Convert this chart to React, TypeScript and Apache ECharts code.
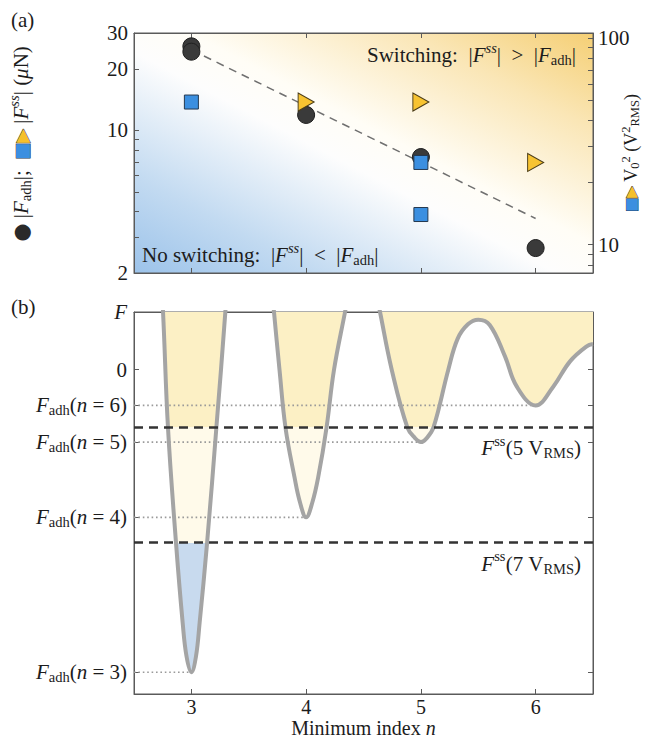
import React, { useEffect, useRef } from 'react';
import * as echarts from 'echarts';

const SERIF = '"Liberation Serif", "Times New Roman", serif';
const SYM = '"DejaVu Sans", sans-serif';
const INK = '#1c1c1c';
const AXIS = '#5a5a5a';
const FS = 21;
const FSS = 14.5;

// ---------- shared x range ----------
const nRange = [2.5, 6.5];
const nTicks = [3, 4, 5, 6];

// ---------- panel (a) ----------
const adhN = [3, 3, 4, 5, 6];
const adhForce = [25.8, 24.3, 11.9, 7.4, 2.65];
const trendN = [3, 6];
const trendForce = [24.8, 3.7];
const triN = [4, 5, 6];
const triV2 = [49, 49, 25];
const sqN = [3, 5, 5];
const sqV2 = [49, 25, 14];
const forceRange = [2, 30];
const forceTicks = [2, 3, 4, 5, 6, 7, 8, 9, 10, 20, 30];
const forceLabels = [2, 10, 20, 30];
const v2Range = [7.3, 105.7];
const v2Ticks = [8, 9, 10, 20, 30, 40, 50, 60, 70, 80, 90, 100];
const v2Labels = [10, 100];

// ---------- panel (b) ----------
const well3N = [2.72, 2.753, 2.796, 2.866, 2.924, 2.958, 3.0, 3.04, 3.072, 3.137, 3.218, 3.296, 3.33];
const well3F = [10, 4.77, -4.77, -14.3, -20.9, -23.7, -25, -23.7, -20.9, -14.3, -4.77, 4.77, 10];
const well4N = [3.668, 3.72, 3.768, 3.82, 3.899, 3.947, 4.0, 4.054, 4.105, 4.178, 4.243, 4.339, 4.443];
const well4F = [10, 4.77, 0, -4.77, -8.9, -10.97, -12.2, -10.97, -8.9, -4.77, 0, 4.77, 10];
const tailN = [4.533, 4.644, 4.746, 4.882, 4.949, 5.0, 5.051, 5.11, 5.239, 5.32, 5.41, 5.5, 5.6, 5.733, 5.835, 6.0, 6.155, 6.3, 6.445, 6.5];
const tailF = [10, 4.77, 0, -4.77, -5.65, -5.98, -5.65, -4.77, 0, 2.55, 3.75, 4.13, 3.7, 1.1, -1.38, -2.95, -1.38, 0.69, 1.93, 2.12];
const gapN = [3.5, 4.5];
const adhLevelN = [3, 4, 5, 6];
const adhLevelF = [-25, -12.2, -5.98, -2.95];
const fssVolt = [5, 7];
const fssF = [-4.77, -14.3];
const fRange = [-26.8, 4.77];

const zip = (xs: number[], ys: number[]) => xs.map((x, i) => [x, ys[i]]);

function richSet(key: 'color' | 'fill', fs: number, fss: number, supPad: number, subPad: number) {
  const c = (v: string) => ({ [key]: v });
  return {
    i: { fontFamily: SERIF, fontSize: fs, fontStyle: 'italic', ...c(INK) },
    r: { fontFamily: SERIF, fontSize: fs, ...c(INK) },
    sub: { fontFamily: SERIF, fontSize: fss, padding: [subPad, 0, 0, 0], ...c(INK) },
    sup: { fontFamily: SERIF, fontSize: fss, padding: [0, 0, supPad, 0], ...c(INK) },
    supi: { fontFamily: SERIF, fontSize: fss, fontStyle: 'italic', padding: [0, 0, supPad, 0], ...c(INK) },
    ci: { fontFamily: SYM, fontSize: fs, ...c('#2a2a2a') },
    tr: { fontFamily: SYM, fontSize: fs - 3, ...c('#f5c02c'), textBorderColor: '#3a3a3a', textBorderWidth: 1 },
    sq: { fontFamily: SYM, fontSize: fs - 3, ...c('#3b8fe0'), textBorderColor: '#22364d', textBorderWidth: 1 },
  };
}
const RICH = richSet('color', FS, FSS, 15, 10);
const RICH_SMALL = richSet('color', 18, 12.5, 11, 8);
const GRICH = richSet('fill', FS, FSS, 15, 10);
const NAME_RICH = { i: { fontFamily: SERIF, fontSize: 20, fontStyle: 'italic', color: INK, lineHeight: 18 } };

const tickStyle = { lineStyle: { color: AXIS, width: 1 } };
const lineAxis = { show: true, onZero: false, lineStyle: { color: AXIS, width: 1 } };

export default function App() {
  const ref = useRef<HTMLDivElement>(null);
  useEffect(() => {
    if (!ref.current) return;
    const chart = echarts.init(ref.current, null, { renderer: 'svg' });

    const curve = [
      ...zip(well3N, well3F),
      [gapN[0], '-'],
      ...zip(well4N, well4F),
      [gapN[1], '-'],
      ...zip(tailN, tailF),
    ];

    const xBase = (grid: number, top: boolean, labels: boolean) => ({
      type: 'value',
      gridIndex: grid,
      position: top ? 'top' : 'bottom',
      min: nRange[0],
      max: nRange[1],
      axisLine: lineAxis,
      splitLine: { show: false },
      axisTick: { show: true, inside: true, length: 5, customValues: nTicks, ...tickStyle },
      axisLabel: labels
        ? { show: true, customValues: nTicks, fontFamily: SERIF, fontSize: 20, lineHeight: 18, color: INK, margin: 4 }
        : { show: false },
    });

    const findLevel = (v: number) => adhLevelF.findIndex((a) => Math.abs(a - v) < 1e-6);

    const option: any = {
      animation: false,
      backgroundColor: '#ffffff',
      textStyle: { fontFamily: SERIF },
      grid: [
        {
          left: 134, top: 33, width: 459, height: 240, show: true,
          outerBoundsMode: 'none', containLabel: false,
          borderColor: AXIS, borderWidth: 1,
          backgroundColor: {
            type: 'linear', x: 0, y: 1, x2: 1, y2: 0,
            colorStops: [
              { offset: 0, color: '#9cc3ea' },
              { offset: 0.2, color: '#c2daf1' },
              { offset: 0.46, color: '#fdfdfd' },
              { offset: 0.56, color: '#fffdf6' },
              { offset: 0.8, color: '#fae6b6' },
              { offset: 1, color: '#f5cf74' },
            ],
          },
        },
        {
          left: 134, top: 312, width: 459, height: 382, show: true,
          outerBoundsMode: 'none', containLabel: false,
          borderColor: AXIS, borderWidth: 1, backgroundColor: '#ffffff',
        },
      ],
      xAxis: [
        xBase(0, false, false),
        xBase(0, true, false),
        {
          ...xBase(1, false, true),
          name: 'Minimum index {i|n}',
          nameLocation: 'middle',
          nameGap: 25,
          nameMoveOverlap: false,
          nameTextStyle: { fontFamily: SERIF, fontSize: 20, lineHeight: 18, color: INK, rich: NAME_RICH },
        },
        xBase(1, true, false),
      ],
      yAxis: [
        {
          type: 'log', logBase: 10, gridIndex: 0, position: 'left',
          min: forceRange[0], max: forceRange[1],
          axisLine: lineAxis, splitLine: { show: false }, minorTick: { show: false },
          axisTick: { show: true, inside: true, length: 5, customValues: forceTicks, ...tickStyle },
          axisLabel: { customValues: forceLabels, fontFamily: SERIF, fontSize: FS, color: INK, margin: 6 },
          name: '{ci|●} |{i|F}{sub|adh}|;  {sq|■}{tr|▶} |{i|F}{supi|ss}| ({i|μ}N)',
          nameLocation: 'middle', nameRotate: 90, nameGap: 98,
          nameTextStyle: { fontFamily: SERIF, fontSize: FS, color: INK, rich: RICH, padding: [0, 0, 0, 18] },
        },
        {
          type: 'log', logBase: 10, gridIndex: 0, position: 'right',
          min: v2Range[0], max: v2Range[1],
          axisLine: lineAxis, splitLine: { show: false }, minorTick: { show: false },
          axisTick: { show: true, inside: true, length: 5, customValues: v2Ticks, ...tickStyle },
          axisLabel: { customValues: v2Labels, fontFamily: SERIF, fontSize: FS, color: INK, margin: 5 },
          name: '{sq|■}{tr|▶} V{sub|0}{sup|2} (V{sup|2}{sub|RMS})',
          nameLocation: 'middle', nameRotate: 90, nameGap: 26, nameMoveOverlap: false,
          nameTextStyle: { fontFamily: SERIF, fontSize: 18, color: INK, rich: RICH_SMALL },
        },
        {
          type: 'value', gridIndex: 1, position: 'left',
          min: fRange[0], max: fRange[1],
          axisLine: lineAxis, splitLine: { show: false },
          axisTick: { show: true, inside: true, length: 5, customValues: [...adhLevelF, 0], ...tickStyle },
          axisLabel: {
            customValues: [...adhLevelF, 0, fRange[1]],
            fontFamily: SERIF, fontSize: FS, color: INK, margin: 7, rich: RICH,
            formatter: (v: number) => {
              if (Math.abs(v - fRange[1]) < 1e-6) return '{i|F}';
              const k = findLevel(v);
              if (k >= 0) return `{i|F}{sub|adh}({i|n} = ${adhLevelN[k]})`;
              return String(Math.round(v));
            },
          },
        },
        {
          type: 'value', gridIndex: 1, position: 'right',
          min: fRange[0], max: fRange[1],
          axisLine: lineAxis, splitLine: { show: false },
          axisTick: { show: true, inside: true, length: 5, customValues: [...adhLevelF, 0], ...tickStyle },
          axisLabel: { show: false },
        },
      ],
      visualMap: [
        {
          type: 'piecewise', show: false, seriesIndex: 4, dimension: 1,
          pieces: [
            { lt: fssF[1], color: '#c8daee' },
            { gte: fssF[1], lt: fssF[0], color: '#fffaea' },
            { gte: fssF[0], color: '#fcf0c5' },
          ],
        },
      ],
      series: [
        {
          type: 'line', xAxisIndex: 0, yAxisIndex: 0, data: zip(trendN, trendForce),
          symbol: 'none', lineStyle: { color: '#707070', width: 1.5, type: [8, 6] }, z: 2, silent: true,
        },
        {
          type: 'scatter', xAxisIndex: 0, yAxisIndex: 0, data: zip(adhN, adhForce),
          symbol: 'circle', symbolSize: 17,
          itemStyle: { color: '#3a3a3a', borderColor: '#1f1f1f', borderWidth: 1, opacity: 1 }, z: 3,
        },
        {
          type: 'scatter', xAxisIndex: 0, yAxisIndex: 1, data: zip(triN, triV2),
          symbol: 'path://M0,0L12,7L0,14Z', symbolSize: [16, 18],
          itemStyle: { color: '#f7c331', borderColor: '#4a3c18', borderWidth: 1, opacity: 1 }, z: 4,
        },
        {
          type: 'scatter', xAxisIndex: 0, yAxisIndex: 1, data: zip(sqN, sqV2),
          symbol: 'rect', symbolSize: 14,
          itemStyle: { color: '#3b8fe0', borderColor: '#24384f', borderWidth: 1, opacity: 1 }, z: 5,
        },
        {
          type: 'line', xAxisIndex: 2, yAxisIndex: 2, data: curve, smooth: 0.4,
          showSymbol: false, symbol: 'none', connectNulls: false,
          lineStyle: { width: 0, opacity: 0 },
          areaStyle: { origin: 'end', opacity: 1 }, z: 1, silent: true,
        },
        ...adhLevelF.map((f, i) => ({
          type: 'line', xAxisIndex: 2, yAxisIndex: 2,
          data: [[nRange[0], f], [adhLevelN[i], f]],
          symbol: 'none', lineStyle: { color: '#9a9a9a', width: 1.6, type: [1.6, 2.8] }, z: 2, silent: true,
        })),
        {
          type: 'line', xAxisIndex: 2, yAxisIndex: 2, data: curve, smooth: 0.4,
          showSymbol: false, symbol: 'none', connectNulls: false,
          lineStyle: { color: '#a4a4a4', width: 4 }, z: 3, silent: true,
        },
        {
          type: 'line', xAxisIndex: 2, yAxisIndex: 2, data: [], z: 4,
          markLine: {
            silent: true, symbol: 'none', animation: false,
            lineStyle: { color: '#333333', width: 2.6, type: [9, 6] },
            label: {
              show: true, position: 'insideEndBottom', distance: [12, 6],
              fontFamily: SERIF, fontSize: FS, color: INK, rich: RICH,
              formatter: (p: any) => {
                const k = fssF.findIndex((f) => Math.abs(f - p.value) < 1e-6);
                return `{i|F}{sup|ss}(${fssVolt[k]} V{sub|RMS})`;
              },
            },
            data: fssF.map((f) => ({ yAxis: f })),
          },
        },
      ],
      graphic: [
        { type: 'text', x: 11, y: 20, style: { text: '(a)', fontFamily: SERIF, fontSize: FS, fill: INK, verticalAlign: 'middle' } },
        { type: 'text', x: 11, y: 307, style: { text: '(b)', fontFamily: SERIF, fontSize: FS, fill: INK, verticalAlign: 'middle' } },
        {
          type: 'text', x: 576, y: 55, z: 10,
          style: {
            text: 'Switching:  |{i|F}{supi|ss}|  >  |{i|F}{sub|adh}|', rich: GRICH,
            fontFamily: SERIF, fontSize: FS, fill: INK, align: 'right', verticalAlign: 'middle',
          },
        },
        {
          type: 'text', x: 142, y: 255, z: 10,
          style: {
            text: 'No switching:  |{i|F}{supi|ss}|  <  |{i|F}{sub|adh}|', rich: GRICH,
            fontFamily: SERIF, fontSize: FS, fill: INK, align: 'left', verticalAlign: 'middle',
          },
        },
      ],
    };

    chart.setOption(option);
    return () => chart.dispose();
  }, []);

  return <div ref={ref} style={{ position: 'fixed', left: 0, top: 0, width: 645, height: 740 }} />;
}
